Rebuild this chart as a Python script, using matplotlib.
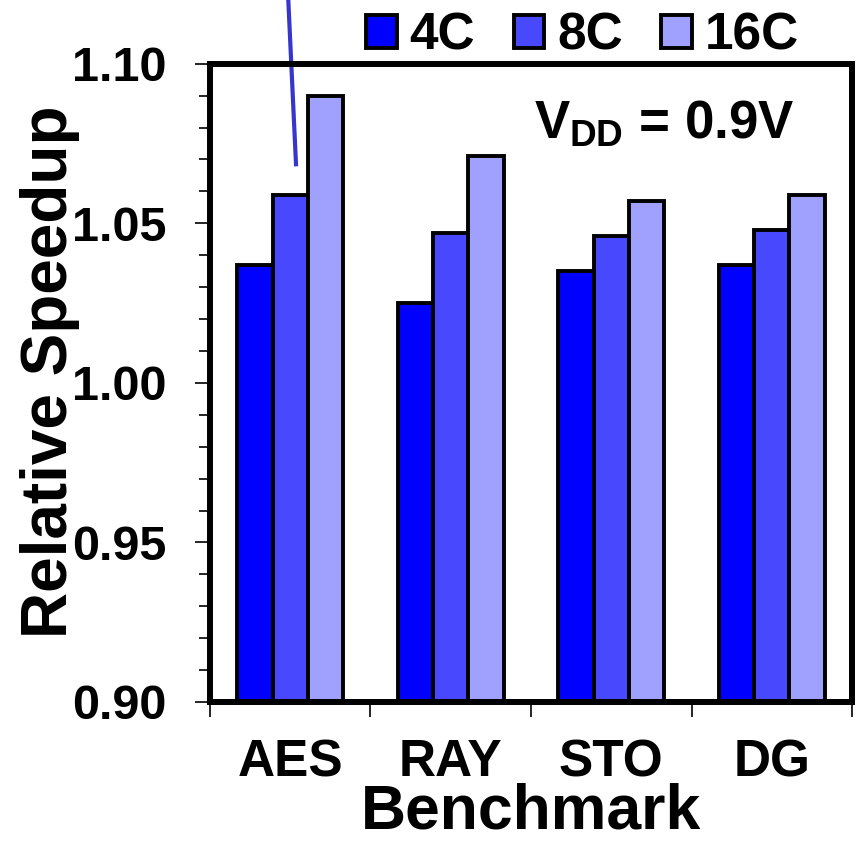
import numpy as np
import matplotlib
matplotlib.use("Agg")
import matplotlib.pyplot as plt
from matplotlib.patches import Patch

plt.rcParams["font.family"] = ["Liberation Sans", "DejaVu Sans"]
plt.rcParams["font.weight"] = "bold"
plt.rcParams["mathtext.fontset"] = "custom"
plt.rcParams["mathtext.rm"] = "Liberation Sans:bold"
plt.rcParams["mathtext.it"] = "Liberation Sans:bold"
plt.rcParams["mathtext.bf"] = "Liberation Sans:bold"

benchmarks = ["AES", "RAY", "STO", "DG"]
series = ["4C", "8C", "16C"]
speedup_4c = [1.037, 1.025, 1.035, 1.037]
speedup_8c = [1.059, 1.047, 1.046, 1.048]
speedup_16c = [1.090, 1.071, 1.057, 1.059]
colors = ["#0000ff", "#4848ff", "#a0a0ff"]

# stray callout line left over in the original figure (data coords)
callout_x = [-0.014, 0.036]
callout_y = [1.122, 1.0685]

fig = plt.figure(figsize=(8.63, 8.42), dpi=100)
ax = fig.add_axes([0.2433, 0.1663, 0.744, 0.758])

x = np.arange(len(benchmarks))
width = 0.22
for i, vals in enumerate([speedup_4c, speedup_8c, speedup_16c]):
    ax.bar(x + (i - 1) * width, vals, width, color=colors[i],
           edgecolor="black", linewidth=2.8, label=series[i])

ax.set_xlim(-0.5, len(benchmarks) - 0.5)
ax.set_ylim(0.90, 1.10)

ax.set_yticks(np.arange(0.90, 1.1001, 0.05))
ax.set_yticklabels(["%.2f" % v for v in np.arange(0.90, 1.1001, 0.05)])
ax.set_yticks(np.arange(0.90, 1.1001, 0.01), minor=True)
ax.tick_params(axis="y", which="major", length=11, width=1.2, pad=20,
               labelsize=35, direction="out")
ax.tick_params(axis="y", which="minor", length=8, width=1.2, direction="out")

ax.set_xticks(np.arange(-0.5, len(benchmarks), 1.0))
ax.set_xticklabels([])
ax.set_xticks(x, minor=True)
ax.set_xticklabels(benchmarks, minor=True)
ax.tick_params(axis="x", which="major", length=11, width=1.2, direction="out")
ax.tick_params(axis="x", which="minor", length=0, pad=26, labelsize=37)

for sp in ax.spines.values():
    sp.set_linewidth(4.3)

ax.set_xlabel("Benchmark", fontsize=45, fontweight="bold", labelpad=-3)
ax.set_ylabel("Relative Speedup", fontsize=46, fontweight="bold")
ax.yaxis.set_label_coords(-0.203, 0.517)

ax.text(0.91, 0.905, r"$V_{DD}$ = 0.9V", transform=ax.transAxes,
        fontsize=38, fontweight="bold", ha="right", va="center")

ax.plot(callout_x, callout_y, color="#3636cc", linewidth=3, clip_on=False)

handles = [Patch(facecolor=c, edgecolor="black", linewidth=2.8) for c in colors]
fig.legend(handles, series, loc="center", bbox_to_anchor=(0.675, 0.957),
           ncol=3, frameon=False, fontsize=37, handlelength=0.6,
           handleheight=0.6, handletextpad=0.25, columnspacing=0.75,
           borderpad=0, borderaxespad=0)

fig.savefig("out.png", dpi=100)
